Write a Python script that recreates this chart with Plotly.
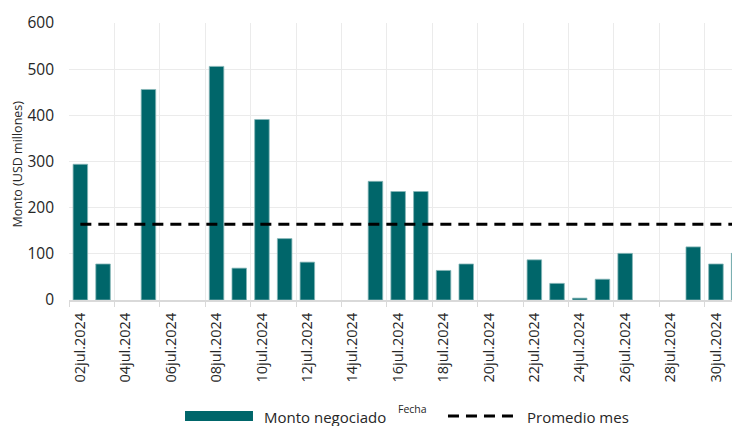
import plotly.graph_objects as go
import numpy as np

# ---- data ----
fechas = ["2024-07-02", "2024-07-03", "2024-07-05", "2024-07-08", "2024-07-09",
          "2024-07-10", "2024-07-11", "2024-07-12", "2024-07-15", "2024-07-16",
          "2024-07-17", "2024-07-18", "2024-07-19", "2024-07-22", "2024-07-23",
          "2024-07-24", "2024-07-25", "2024-07-26", "2024-07-29", "2024-07-30",
          "2024-07-31"]
montos = [294, 78, 456, 506, 69, 391, 133, 82, 257, 235, 235, 64, 78, 87, 36,
          4, 45, 101, 115, 78, 101]
promedio_mes = float(np.mean(montos))

tick_fechas = ["2024-07-%02d" % d for d in range(2, 31, 2)]
tick_labels = ["%02djul.2024" % d for d in range(2, 31, 2)]
y_ticks = [0, 100, 200, 300, 400, 500, 600]

TEAL = "#00666a"
FONT = "Open Sans"
DAY_MS = 86400000

fig = go.Figure()
fig.add_trace(go.Bar(
    x=fechas, y=montos, name="Monto negociado",
    width=0.64 * DAY_MS,
    marker=dict(color=TEAL, line=dict(color="#86b6b8", width=0.8)),
    showlegend=False,
))
fig.add_trace(go.Scatter(
    x=[fechas[0], fechas[-1]], y=[promedio_mes, promedio_mes],
    mode="lines", name="Promedio mes",
    line=dict(color="black", width=3, dash="11px,7px"),
    showlegend=False,
))

fig.update_layout(
    width=740, height=426,
    margin=dict(l=61, r=8, t=15, b=134),
    paper_bgcolor="white", plot_bgcolor="white",
    font=dict(family=FONT, color="#262626", size=15),
)
fig.update_xaxes(
    type="date",
    range=["2024-07-01 12:00", "2024-07-31 01:26"],
    tickmode="array", tickvals=tick_fechas, ticktext=tick_labels,
    tickangle=-90, tickfont=dict(size=14.5, family=FONT, color="#262626"),
    showgrid=False, ticks="", ticklabelstandoff=5,
    showline=True, linecolor="#d9d9d9", linewidth=2,
    minor=dict(tick0="2024-07-01 12:00", dtick=2 * DAY_MS, showgrid=True,
               gridcolor="#ebebeb", gridwidth=1.3,
               ticks="outside", ticklen=5, tickcolor="#d9d9d9", tickwidth=1.3),
    zeroline=False, automargin=False,
)
fig.update_yaxes(
    range=[0, 600], tickmode="array", tickvals=y_ticks,
    showgrid=True, gridcolor="#ebebeb", gridwidth=1.3,
    tickfont=dict(size=15.5, family=FONT, color="#262626"),
    ticks="", ticklabelstandoff=14, zeroline=False, automargin=False,
)

# y-axis title
fig.add_annotation(text="Monto (USD millones)", textangle=-90,
                   xref="paper", yref="paper", x=-0.0760, y=0.489,
                   xanchor="center", yanchor="middle", borderpad=0,
                   showarrow=False, font=dict(size=12.5, family=FONT, color="#262626"))
# x-axis title
fig.add_annotation(text="Fecha", xref="paper", yref="paper", x=0.5112, y=-0.3935,
                   xanchor="center", yanchor="middle",
                   showarrow=False, font=dict(size=10.5, family=FONT, color="#262626"))

# legend (manual)
fig.add_shape(type="rect", xref="paper", yref="paper",
              x0=0.1729, x1=0.2742, y0=-0.4368, y1=-0.4007,
              fillcolor=TEAL, line=dict(width=0))
fig.add_annotation(text="Monto negociado", xref="paper", yref="paper",
                   x=0.2876, y=-0.4224, xanchor="left", yanchor="middle",
                   showarrow=False, font=dict(size=15, family=FONT, color="#262626"))
fig.add_shape(type="line", xref="paper", yref="paper",
              x0=0.5648, x1=0.6617, y0=-0.4188, y1=-0.4188,
              line=dict(color="black", width=3, dash="11px,7px"))
fig.add_annotation(text="Promedio mes", xref="paper", yref="paper",
                   x=0.6796, y=-0.4224, xanchor="left", yanchor="middle",
                   showarrow=False, font=dict(size=15, family=FONT, color="#262626"))

fig.write_html("out.html")
